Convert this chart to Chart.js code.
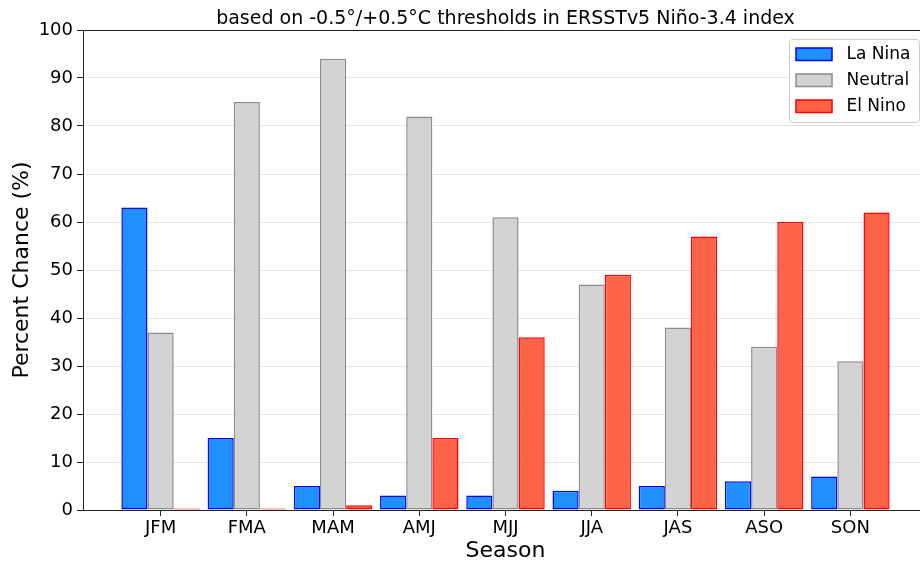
<!DOCTYPE html>
<html>
<head>
<meta charset="utf-8">
<script src="https://cdn.jsdelivr.net/npm/chart.js@4.4.0/dist/chart.umd.min.js"></script>
<style>
  html, body { margin: 0; padding: 0; background: #fff; overflow: hidden; }
  /* the plot frame runs a little past the right edge of the window, like the original */
  #wrap { width: 940px; height: 564px; position: relative; }
</style>
</head>
<body>
<div id="wrap"><canvas id="chart"></canvas></div>
<script>
// data
const seasons = ['JFM', 'FMA', 'MAM', 'AMJ', 'MJJ', 'JJA', 'JAS', 'ASO', 'SON'];
const laNina  = [63, 15, 5, 3, 3, 4, 5, 6, 7];
const neutral = [37, 85, 94, 82, 61, 47, 38, 34, 31];
const elNino  = [0, 0, 1, 15, 36, 49, 57, 60, 62];
const yTicks  = [0, 10, 20, 30, 40, 50, 60, 70, 80, 90, 100];
const titleText = 'based on -0.5°/+0.5°C thresholds in ERSSTv5 Niño-3.4 index';

const FONT = "'DejaVu Sans', 'Liberation Sans', sans-serif";
Chart.defaults.font.family = FONT;
Chart.defaults.color = '#000';

const toPoints = (vals) => vals.map((v, i) => ({ x: i, y: v }));

// top spine, title centred over the axes, legend box inside (upper right)
const framePlugin = {
    id: 'frame',
    afterDatasetsDraw(chart) {
        const { ctx, chartArea } = chart;
        ctx.save();
        ctx.strokeStyle = '#222';
        ctx.lineWidth = 1;
        ctx.beginPath();
        ctx.moveTo(chartArea.left, chartArea.top + 0.5);
        ctx.lineTo(chartArea.right, chartArea.top + 0.5);
        ctx.stroke();
        ctx.restore();
    },
    afterDraw(chart) {
        const { ctx, chartArea } = chart;
        ctx.save();
        // title
        ctx.font = '19px ' + FONT;
        ctx.fillStyle = '#000';
        ctx.textAlign = 'center';
        ctx.textBaseline = 'alphabetic';
        ctx.fillText(titleText, (chartArea.left + chartArea.right) / 2, chartArea.top - 6);

        // legend
        const sets = chart.data.datasets;
        const w = 130, h = 83;
        const x0 = chartArea.right - 9 - w + 0.5;
        const y0 = chartArea.top + 9 + 0.5;
        ctx.beginPath();
        ctx.roundRect(x0, y0, w, h, 3);
        ctx.fillStyle = 'rgba(255,255,255,0.8)';
        ctx.fill();
        ctx.strokeStyle = '#cccccc';
        ctx.lineWidth = 1;
        ctx.stroke();

        ctx.font = '17px ' + FONT;
        ctx.textBaseline = 'middle';
        ctx.textAlign = 'left';
        sets.forEach((ds, i) => {
            const cy = y0 + 14.5 + i * 26;
            ctx.fillStyle = ds.backgroundColor;
            ctx.fillRect(x0 + 6.5, cy - 6, 36, 12.5);
            ctx.strokeStyle = ds.borderColor;
            ctx.lineWidth = 1.5;
            ctx.strokeRect(x0 + 6.5, cy - 6, 36, 12.5);
            ctx.fillStyle = '#000';
            ctx.fillText(ds.label, x0 + 57, cy + 1);
        });
        ctx.restore();
    }
};

new Chart(document.getElementById('chart'), {
    type: 'bar',
    data: {
        datasets: [{
            label: 'La Nina',
            data: toPoints(laNina),
            backgroundColor: '#1E90FF',
            borderColor: '#0000FF',
            borderWidth: 1.5
        }, {
            label: 'Neutral',
            data: toPoints(neutral),
            backgroundColor: '#D3D3D3',
            borderColor: '#8c8c8c',
            borderWidth: 1.5
        }, {
            label: 'El Nino',
            data: toPoints(elNino),
            backgroundColor: '#FF6347',
            borderColor: '#FF0000',
            borderWidth: 1.5
        }]
    },
    options: {
        responsive: true,
        maintainAspectRatio: false,
        devicePixelRatio: 1,
        animation: false,
        layout: { padding: { left: 0, right: 12, top: 30, bottom: 0 } },
        datasets: {
            bar: {
                categoryPercentage: 0.91,
                barPercentage: 1.0,
                borderSkipped: false,
                minBarLength: 1.5
            }
        },
        plugins: {
            legend: { display: false },
            tooltip: { enabled: false },
            title: { display: false }
        },
        scales: {
            x: {
                type: 'linear',
                offset: false,
                min: -0.9,
                max: 8.9,
                afterBuildTicks(scale) {
                    scale.ticks = seasons.map((s, i) => ({ value: i }));
                },
                afterFit(scale) { scale.height = 54; },
                ticks: {
                    callback: (value) => seasons[value],
                    font: { size: 18 },
                    color: '#000',
                    padding: 2,
                    maxRotation: 0,
                    autoSkip: false
                },
                grid: {
                    offset: false,
                    drawOnChartArea: false,
                    tickLength: 6,
                    tickColor: '#222'
                },
                border: { color: '#222', width: 1 },
                title: {
                    display: true,
                    text: 'Season',
                    color: '#000',
                    font: { size: 22 },
                    padding: { top: 0, bottom: 0 }
                }
            },
            y: {
                min: 0,
                max: 100,
                afterBuildTicks(scale) {
                    scale.ticks = yTicks.map(v => ({ value: v }));
                },
                afterFit(scale) { scale.width = 83; },
                ticks: {
                    font: { size: 18 },
                    color: '#000',
                    padding: 4
                },
                grid: {
                    color: '#e6e6e6',
                    lineWidth: 1,
                    tickLength: 6,
                    tickColor: '#222'
                },
                border: { color: '#222', width: 1 },
                title: {
                    display: true,
                    text: 'Percent Chance (%)',
                    color: '#000',
                    font: { size: 22 },
                    padding: { top: 9, bottom: 0 }
                }
            }
        }
    },
    plugins: [framePlugin]
});
</script>
</body>
</html>
